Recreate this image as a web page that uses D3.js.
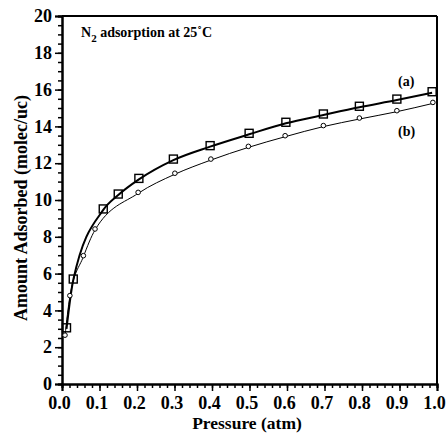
<!DOCTYPE html>
<html><head><meta charset="utf-8">
<script src="https://cdn.jsdelivr.net/npm/d3@7"></script>
<style>body{margin:0;background:#fff}svg{display:block}text{font-family:"Liberation Serif","Times New Roman",serif;font-weight:bold}</style>
</head><body><svg id="c" width="448" height="437"></svg>
<script>
const pressureA = [0.012,0.03,0.11,0.15,0.205,0.297,0.395,0.499,0.597,0.697,0.793,0.893,0.987];
const amountA   = [3.0,5.65,9.46,10.27,11.12,12.17,12.9,13.57,14.17,14.62,15.04,15.43,15.83];
const pressureB = [0.008,0.021,0.057,0.088,0.203,0.301,0.397,0.497,0.595,0.697,0.793,0.893,0.989];
const amountB   = [2.6,4.75,6.92,8.37,10.36,11.4,12.17,12.86,13.44,13.99,14.4,14.8,15.25];
const xTicks = [0,0.1,0.2,0.3,0.4,0.5,0.6,0.7,0.8,0.9,1.0];
const yTicks = [0,2,4,6,8,10,12,14,16,18,20];

const svg = d3.select("#c");
const L=62,R=437,T=16,B=384;
const x = d3.scaleLinear().domain([0,1]).range([L,R]);
const y = d3.scaleLinear().domain([0,20]).range([B,T]);

// frame
svg.append("line").attr("x1",L).attr("x2",R).attr("y1",T).attr("y2",T).attr("stroke","#000").attr("stroke-width",2);
svg.append("line").attr("x1",R).attr("x2",R).attr("y1",T).attr("y2",B).attr("stroke","#000").attr("stroke-width",2);

const xMinor = d3.range(0,1.0001,0.02);
const yMinor = d3.range(0,20.0001,0.5);
const xa = svg.append("g").attr("transform",`translate(0,${B})`)
  .call(d3.axisBottom(x).tickValues(xMinor).tickSize(4).tickFormat(""));
const ya = svg.append("g").attr("transform",`translate(${L},0)`)
  .call(d3.axisLeft(y).tickValues(yMinor).tickSize(4).tickFormat(""));
const xA = svg.append("g").attr("transform",`translate(0,${B})`)
  .call(d3.axisBottom(x).tickValues(xTicks).tickSize(7).tickPadding(5).tickFormat(d3.format(".1f")));
const yA = svg.append("g").attr("transform",`translate(${L},0)`)
  .call(d3.axisLeft(y).tickValues(yTicks).tickSize(7).tickPadding(3).tickFormat(d3.format("d")));
[xa,ya,xA,yA].forEach(g=>{
  g.select(".domain").attr("stroke","#000").attr("stroke-width",2);
  g.selectAll(".tick line").attr("stroke","#000").attr("stroke-width",1.5);
  g.selectAll("text").attr("fill","#000").style("font-size","18px").style("font-family","Liberation Serif").style("font-weight","bold");
});
xA.selectAll("text").attr("dx","-3");

const lineGen = d3.line().x(d=>x(d[0])).y(d=>y(d[1])).curve(d3.curveMonotoneX);
const dA = pressureA.map((p,i)=>[p,amountA[i]]);
const dB = pressureB.map((p,i)=>[p,amountB[i]]);
svg.append("path").attr("d",lineGen(dB)).attr("fill","none").attr("stroke","#000").attr("stroke-width",1);
svg.append("path").attr("d",lineGen(dA)).attr("fill","none").attr("stroke","#000").attr("stroke-width",2);

svg.selectAll(".mb").data(dB).enter().append("circle")
  .attr("cx",d=>x(d[0])).attr("cy",d=>y(d[1])-1).attr("r",2.3)
  .attr("fill","#fff").attr("stroke","#000").attr("stroke-width",1);
svg.selectAll(".ma").data(dA).enter().append("rect")
  .attr("x",d=>x(d[0])-4).attr("y",d=>y(d[1])-5).attr("width",8).attr("height",8)
  .attr("fill","none").attr("stroke","#000").attr("stroke-width",1.4);

const t = svg.append("text").attr("x",81).attr("y",37).style("font-size","14px");
t.append("tspan").text("N");
t.append("tspan").attr("dy",5).style("font-size","11px").text("2");
t.append("tspan").attr("dy",-5).text(" adsorption at 25˚C");
svg.append("text").attr("x",398).attr("y",86).style("font-size","14px").text("(a)");
svg.append("text").attr("x",398).attr("y",136).style("font-size","14px").text("(b)");
svg.append("text").attr("x",247).attr("y",429).attr("text-anchor","middle").style("font-size","17.5px").text("Pressure (atm)");
svg.append("text").attr("transform","translate(27,208) rotate(-90)").attr("text-anchor","middle").style("font-size","18px").text("Amount Adsorbed (molec/uc)");
</script></body></html>
